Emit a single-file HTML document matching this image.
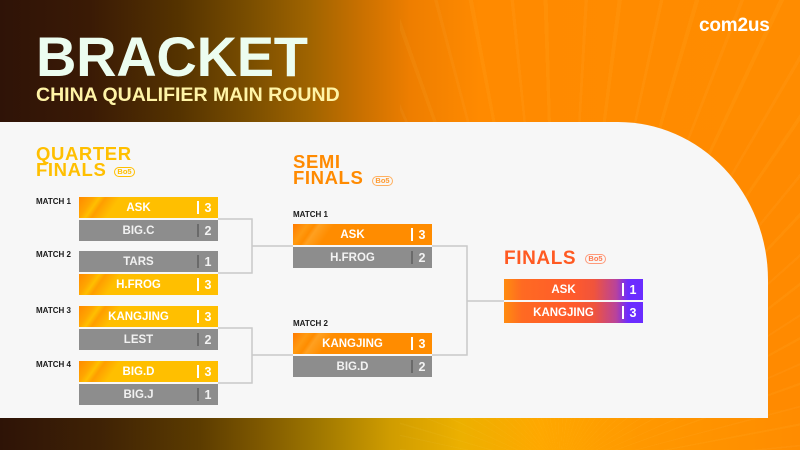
<!DOCTYPE html>
<html><head><meta charset="utf-8">
<style>
*{margin:0;padding:0;box-sizing:border-box}
html,body{width:800px;height:450px;overflow:hidden}
body{position:relative;font-family:"Liberation Sans",Arial,sans-serif;background:#ff8a00}
.abs{position:absolute}
.top{left:0;top:0;width:800px;height:130px;background:linear-gradient(90deg,#2f1307 0px,#3a1a05 90px,#553300 180px,#7a4e00 250px,#a06400 310px,#c87000 360px,#ee7e00 410px,#ff8a00 480px,#ff8c00 800px)}
.rays{left:400px;top:0;width:400px;height:450px;background:repeating-conic-gradient(from 250deg at 160px 470px,rgba(255,230,120,0.06) 0deg 0.5deg,transparent 0.5deg 5deg,rgba(255,255,200,0.04) 5deg 5.4deg,transparent 5.4deg 9deg);}
.bot{left:0;top:410px;width:800px;height:40px;background:linear-gradient(90deg,#2e1306 0px,#3f2205 100px,#5c3c00 200px,#7e5800 260px,#a07800 320px,#cf9c00 390px,#ecb000 460px,#ffa800 540px,#ff9800 640px,#ff8c00 800px)}
.panel{left:0;top:122px;width:768px;height:296px;background:#f7f7f7;border-top-right-radius:150px 158px}
.h1{left:36px;top:28.5px;font-size:56px;line-height:56px;font-weight:bold;color:#ecfdf0;letter-spacing:-0.3px}
.h2{left:36px;top:85.5px;font-size:19.5px;line-height:19.5px;font-weight:bold;color:#fff4a6}
.logo{left:699px;top:16px;font-size:19px;line-height:19px;font-weight:bold;color:#fff;letter-spacing:-0.2px}
.rt{font-size:18.5px;line-height:18.5px;font-weight:bold;letter-spacing:0.6px}
.badge{position:absolute;height:10px;width:21px;border:1px solid;border-radius:5px;font-size:7.5px;line-height:8px;text-align:center;font-weight:bold}
.ml{font-size:8px;line-height:8px;font-weight:bold;color:#1a1a1a}
.box{position:absolute;width:139px;height:21px;color:#fff;font-weight:bold;font-size:11.5px;line-height:21px}
.box .n{position:absolute;left:0;width:119px;text-align:center;top:1px}
.box .s{position:absolute;left:119px;width:20px;text-align:center;top:1px;font-size:12.5px}
.box .d{position:absolute;left:118px;top:4px;width:2px;height:13px;background:#fff}
.L{background:#8d8d8d;color:#f2f2f2}
.L .d{background:#6a6a6a}
.W{background:linear-gradient(125deg,#ff8a00 0px,#ffa600 12px,#ffbf00 17px,#ff9e00 22px,#ffbf00 34px,#ffbf00 139px)}
.S{background:linear-gradient(125deg,#ff7a00 0px,#ff9a10 12px,#ff8c00 18px,#ffa020 22px,#ff8c00 34px,#ff8c00 139px)}
.F{background:linear-gradient(90deg,#ff8c10 0px,#ff6a22 18px,#ff5a2c 70px,#f0543c 90px,#b9439a 112px,#6d2cff 124px,#6a2cff 139px)}
</style></head><body>
<div class="abs top"></div>
<div class="abs bot"></div>
<div class="abs rays"></div>
<div class="abs panel"></div>

<div class="abs h1">BRACKET</div>
<div class="abs h2">CHINA QUALIFIER MAIN ROUND</div>
<div class="abs logo">com2us</div>

<!-- connectors -->
<svg class="abs" style="left:0;top:0" width="800" height="450">
<g fill="none" stroke="#c9c9c9" stroke-width="1.5">
<polyline points="218,219 252,219 252,273 218,273"/>
<line x1="252" y1="246" x2="293" y2="246"/>
<polyline points="218,328 252,328 252,383 218,383"/>
<line x1="252" y1="355" x2="293" y2="355"/>
<polyline points="432,246 467,246 467,355 432,355"/>
<line x1="467" y1="301" x2="504" y2="301"/>
</g>
</svg>

<!-- Quarter finals -->
<div class="abs rt" style="left:36px;top:144.7px;color:#ffbf00">QUARTER</div>
<div class="abs rt" style="left:36px;top:160.7px;color:#ffbf00">FINALS</div>
<div class="badge" style="left:114px;top:167px;color:#ffbf00;border-color:#ffbf00">Bo5</div>

<div class="abs ml" style="left:36px;top:198px">MATCH 1</div>
<div class="abs ml" style="left:36px;top:251px">MATCH 2</div>
<div class="abs ml" style="left:36px;top:307px">MATCH 3</div>
<div class="abs ml" style="left:36px;top:361px">MATCH 4</div>

<div class="box W" style="left:79px;top:197px"><span class="n">ASK</span><span class="d"></span><span class="s">3</span></div>
<div class="box L" style="left:79px;top:220px"><span class="n">BIG.C</span><span class="d"></span><span class="s">2</span></div>
<div class="box L" style="left:79px;top:251px"><span class="n">TARS</span><span class="d"></span><span class="s">1</span></div>
<div class="box W" style="left:79px;top:274px"><span class="n">H.FROG</span><span class="d"></span><span class="s">3</span></div>
<div class="box W" style="left:79px;top:306px"><span class="n">KANGJING</span><span class="d"></span><span class="s">3</span></div>
<div class="box L" style="left:79px;top:329px"><span class="n">LEST</span><span class="d"></span><span class="s">2</span></div>
<div class="box W" style="left:79px;top:361px"><span class="n">BIG.D</span><span class="d"></span><span class="s">3</span></div>
<div class="box L" style="left:79px;top:384px"><span class="n">BIG.J</span><span class="d"></span><span class="s">1</span></div>

<!-- Semi finals -->
<div class="abs rt" style="left:293px;top:152.7px;color:#ff8a00">SEMI</div>
<div class="abs rt" style="left:293px;top:168.7px;color:#ff8a00">FINALS</div>
<div class="badge" style="left:372px;top:176px;color:#ff9a30;border-color:#ffb060">Bo5</div>

<div class="abs ml" style="left:293px;top:211px">MATCH 1</div>
<div class="abs ml" style="left:293px;top:320px">MATCH 2</div>

<div class="box S" style="left:293px;top:224px"><span class="n">ASK</span><span class="d"></span><span class="s">3</span></div>
<div class="box L" style="left:293px;top:247px"><span class="n">H.FROG</span><span class="d"></span><span class="s">2</span></div>
<div class="box S" style="left:293px;top:333px"><span class="n">KANGJING</span><span class="d"></span><span class="s">3</span></div>
<div class="box L" style="left:293px;top:356px"><span class="n">BIG.D</span><span class="d"></span><span class="s">2</span></div>

<!-- Finals -->
<div class="abs rt" style="left:504px;top:248.5px;color:#ff5a22;font-size:19px;line-height:19px">FINALS</div>
<div class="badge" style="left:585px;top:254px;color:#ff7a50;border-color:#ff9a7a">Bo5</div>

<div class="box F" style="left:504px;top:279px"><span class="n">ASK</span><span class="d"></span><span class="s">1</span></div>
<div class="box F" style="left:504px;top:302px"><span class="n">KANGJING</span><span class="d"></span><span class="s">3</span></div>
</body></html>
